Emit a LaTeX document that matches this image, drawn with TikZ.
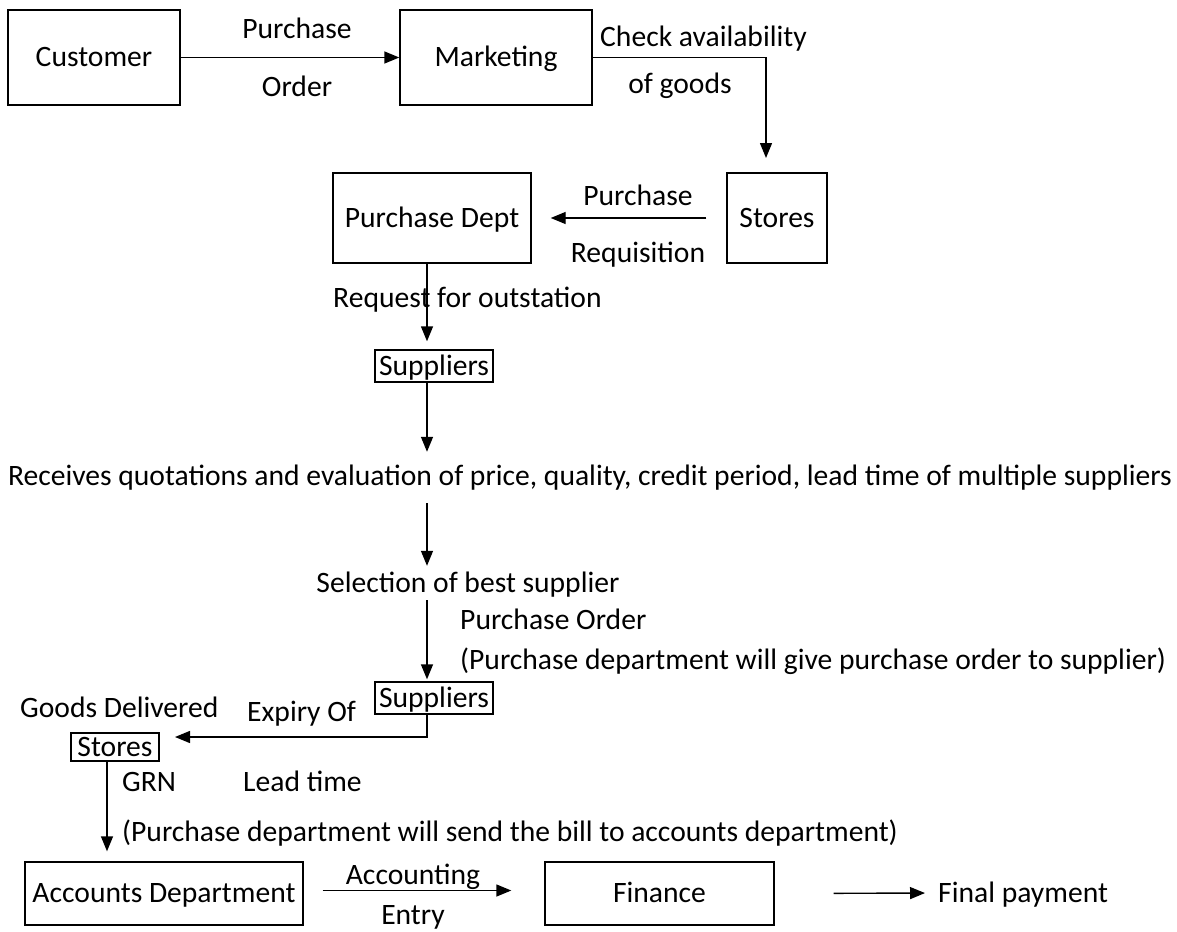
\documentclass[tikz,border=0pt]{standalone}
\usepackage{fontspec}
\setmainfont{Carlito}
\usetikzlibrary{arrows.meta}
\begin{document}
\begin{tikzpicture}[x=1pt,y=-1pt,
  every node/.style={font=\fontsize{29.6}{34}\selectfont, inner sep=0pt, text height=22pt, text depth=4pt},
  box/.style={draw, line width=1.4pt},
  flow/.style={line width=1.4pt, -{Triangle[length=15pt,width=12pt]}}]
\useasboundingbox (0,0) rectangle (1177,931);

% vertical guide lines of the main flow
\coordinate (axis) at (427,0);
\coordinate (axisb) at (107,0);

% boxes
\node[box, minimum width=172pt, minimum height=95pt] (cust) at (94,57.5) {Customer};
\node[box, minimum width=192pt, minimum height=95pt] (mkt) at (496,57.5) {Marketing};
\node[box, minimum width=100pt, minimum height=90pt] (stores) at (777,218) {Stores};
\node[box, minimum width=198pt, minimum height=90pt] (pd) at (432,218) {Purchase Dept};
\node[box, minimum width=118pt, minimum height=32pt] (sup1) at (434,366) {Suppliers};
\node (quot) at (590,476) {Receives quotations and evaluation of price, quality, credit period, lead time of multiple suppliers};
\node (sel) at (468,583) {Selection of best supplier};
\node[box, minimum width=118pt, minimum height=32pt] (sup2) at (434,698) {Suppliers};
\node[box, minimum width=88pt, minimum height=28pt] (st2) at (115,747) {Stores};
\node[box, minimum width=278pt, minimum height=63pt] (acc) at (164,893.5) {Accounts Department};
\node[box, minimum width=229pt, minimum height=63pt] (fin) at (659.5,893.5) {Finance};
\node[anchor=west] (pay) at (938,893) {Final payment};

% labels
\node (l1) at (297,30) {Purchase};
\node (l2) at (297,88) {Order};
\node[anchor=west] (l3) at (600,38) {Check availability};
\node (l4) at (680,85) {of goods};
\node (l5) at (638,196) {Purchase};
\node (l6) at (638,253) {Requisition};
\node[anchor=west] (l7) at (333,298) {Request for outstation};
\node[anchor=west] (l8) at (460,620) {Purchase Order};
\node[anchor=west] (l9) at (460,660) {(Purchase department will give purchase order to supplier)};
\node[anchor=west] (l10) at (20,708) {Goods Delivered};
\node[anchor=west] (l11) at (247,712) {Expiry Of};
\node[anchor=west] (l12) at (122,782) {GRN};
\node[anchor=west] (l13) at (243,782) {Lead time};
\node[anchor=west] (l14) at (122,832) {(Purchase department will send the bill to accounts department)};
\node (l15) at (413,875) {Accounting};
\node (l16) at (413,915) {Entry};

% connectors
\coordinate (chk) at (766,158);
\coordinate (st2in) at (175,737);
\draw[flow] (cust.east) -- (mkt.west);
\draw[flow] (mkt.east) -| (chk);
\draw[flow, shorten <=20pt, shorten >=19pt] (stores.west) -- (pd.east);
\draw[flow, shorten >=8pt] (pd.south -| axis) -- (sup1.north -| axis);
\draw[flow, shorten >=11pt] (sup1.south -| axis) -- (quot.north -| axis);
\draw[flow, shorten <=14pt, shorten >=4pt] (quot.south -| axis) -- (sel.north -| axis);
\draw[flow, shorten <=4pt, shorten >=2pt] (sel.south -| axis) -- (sup2.north -| axis);
\draw[flow] (sup2.south -| axis) |- (st2in);
\draw[flow, shorten >=10pt] (st2.south -| axisb) -- (acc.north -| axisb);
\draw[flow, shorten <=19pt, shorten >=33pt] ([yshift=3pt]acc.east) -- ([yshift=3pt]fin.west);
\draw[flow, shorten <=59pt, shorten >=13pt] (fin.east) -- (pay.west);
\end{tikzpicture}
\end{document}
